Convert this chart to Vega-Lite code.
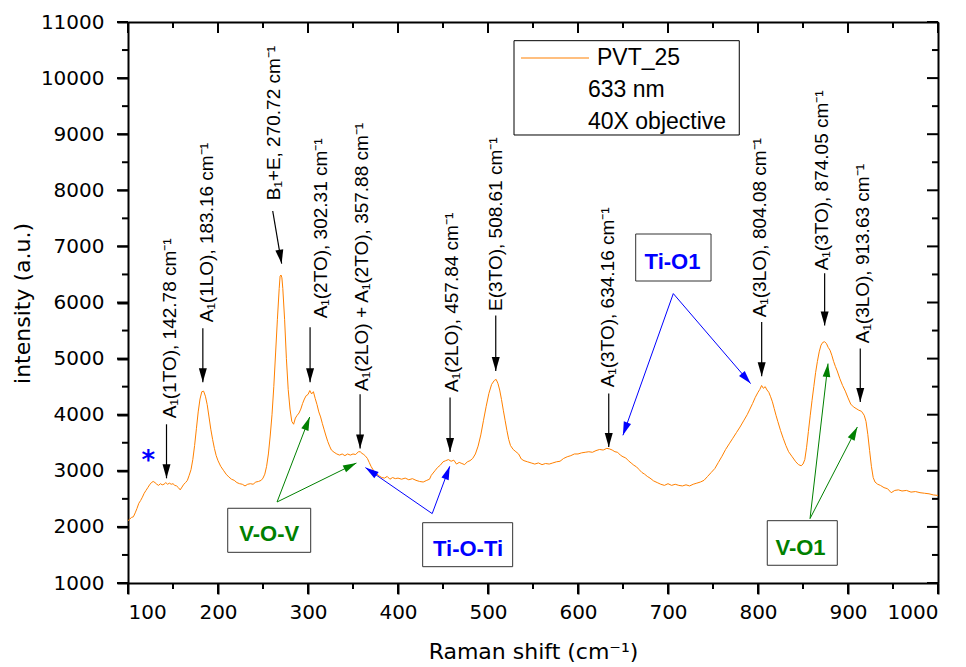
{
"$schema": "https://vega.github.io/schema/vega-lite/v6.json",
"width": 810, "height": 561,
"autosize": {"type": "none"},
"padding": {"left": 128, "top": 22, "right": 28, "bottom": 84},
"background": "white",
"config": {
  "view": {"stroke": null},
  "axis": {"grid": false, "domainColor": "black", "domainWidth": 2, "labelColor": "black", "labelFont": "DejaVu Sans", "labelFontSize": 20, "titleColor": "black", "titleFont": "DejaVu Sans", "titleFontSize": 22, "titleFontWeight": "normal"}
},
"datasets": {
  "spectrum": [
{"x":100,"y":2110},{"x":102,"y":2140},{"x":104,"y":2170},{"x":106,"y":2180},{"x":108,"y":2250},{"x":110,"y":2330},{"x":112,"y":2420},{"x":114,"y":2470},{"x":116,"y":2530},{"x":118,"y":2600},{"x":120,"y":2650},{"x":122,"y":2700},{"x":124,"y":2750},{"x":126,"y":2790},{"x":128,"y":2810},{"x":130,"y":2790},{"x":132,"y":2760},{"x":134,"y":2740},{"x":136,"y":2770},{"x":138,"y":2750},{"x":140,"y":2760},{"x":142,"y":2790},{"x":144,"y":2760},{"x":146,"y":2780},{"x":148,"y":2760},{"x":150,"y":2770},{"x":152,"y":2740},{"x":154,"y":2730},{"x":156,"y":2700},{"x":158,"y":2660},{"x":160,"y":2710},{"x":162,"y":2760},{"x":164,"y":2790},{"x":166,"y":2830},{"x":168,"y":2920},{"x":170,"y":3020},{"x":172,"y":3200},{"x":174,"y":3450},{"x":176,"y":3750},{"x":178,"y":4050},{"x":180,"y":4280},{"x":182,"y":4410},{"x":184,"y":4420},{"x":186,"y":4330},{"x":188,"y":4180},{"x":190,"y":3960},{"x":192,"y":3740},{"x":194,"y":3560},{"x":196,"y":3400},{"x":198,"y":3270},{"x":200,"y":3180},{"x":203,"y":3080},{"x":206,"y":3010},{"x":209,"y":2940},{"x":212,"y":2890},{"x":215,"y":2850},{"x":218,"y":2830},{"x":221,"y":2790},{"x":224,"y":2770},{"x":227,"y":2760},{"x":230,"y":2730},{"x":233,"y":2760},{"x":236,"y":2770},{"x":239,"y":2760},{"x":242,"y":2800},{"x":245,"y":2810},{"x":248,"y":2830},{"x":250,"y":2870},{"x":252,"y":2940},{"x":254,"y":3080},{"x":256,"y":3300},{"x":258,"y":3620},{"x":260,"y":4000},{"x":262,"y":4500},{"x":264,"y":5100},{"x":266,"y":5700},{"x":268,"y":6250},{"x":269,"y":6470},{"x":270,"y":6490},{"x":271,"y":6440},{"x":272,"y":6250},{"x":274,"y":5700},{"x":276,"y":5000},{"x":278,"y":4450},{"x":280,"y":4100},{"x":282,"y":3880},{"x":284,"y":3830},{"x":286,"y":3940},{"x":288,"y":3990},{"x":290,"y":4030},{"x":292,"y":4100},{"x":294,"y":4200},{"x":296,"y":4280},{"x":298,"y":4340},{"x":300,"y":4360},{"x":302,"y":4430},{"x":304,"y":4370},{"x":306,"y":4410},{"x":308,"y":4290},{"x":310,"y":4180},{"x":312,"y":4050},{"x":314,"y":3960},{"x":316,"y":3840},{"x":318,"y":3730},{"x":320,"y":3620},{"x":322,"y":3520},{"x":324,"y":3440},{"x":326,"y":3370},{"x":329,"y":3330},{"x":332,"y":3300},{"x":335,"y":3280},{"x":338,"y":3300},{"x":341,"y":3270},{"x":344,"y":3300},{"x":347,"y":3280},{"x":350,"y":3300},{"x":353,"y":3290},{"x":356,"y":3340},{"x":358,"y":3340},{"x":360,"y":3310},{"x":362,"y":3290},{"x":364,"y":3260},{"x":366,"y":3220},{"x":368,"y":3150},{"x":370,"y":3080},{"x":373,"y":3000},{"x":376,"y":2950},{"x":379,"y":2910},{"x":382,"y":2880},{"x":385,"y":2870},{"x":388,"y":2900},{"x":391,"y":2850},{"x":394,"y":2880},{"x":397,"y":2860},{"x":400,"y":2870},{"x":404,"y":2850},{"x":408,"y":2870},{"x":412,"y":2840},{"x":416,"y":2860},{"x":420,"y":2830},{"x":424,"y":2810},{"x":428,"y":2800},{"x":432,"y":2830},{"x":435,"y":2850},{"x":437,"y":2920},{"x":439,"y":2960},{"x":441,"y":3000},{"x":444,"y":3060},{"x":447,"y":3100},{"x":450,"y":3160},{"x":453,"y":3180},{"x":456,"y":3200},{"x":459,"y":3170},{"x":462,"y":3190},{"x":465,"y":3120},{"x":468,"y":3150},{"x":471,"y":3130},{"x":474,"y":3110},{"x":477,"y":3160},{"x":480,"y":3180},{"x":483,"y":3220},{"x":486,"y":3300},{"x":489,"y":3440},{"x":492,"y":3640},{"x":495,"y":3900},{"x":498,"y":4150},{"x":501,"y":4380},{"x":504,"y":4540},{"x":507,"y":4610},{"x":509,"y":4630},{"x":511,"y":4560},{"x":513,"y":4440},{"x":515,"y":4270},{"x":517,"y":4080},{"x":519,"y":3900},{"x":521,"y":3720},{"x":523,"y":3560},{"x":525,"y":3450},{"x":528,"y":3380},{"x":531,"y":3340},{"x":534,"y":3300},{"x":537,"y":3210},{"x":540,"y":3180},{"x":544,"y":3160},{"x":548,"y":3140},{"x":552,"y":3120},{"x":556,"y":3140},{"x":560,"y":3110},{"x":564,"y":3130},{"x":568,"y":3120},{"x":572,"y":3140},{"x":576,"y":3160},{"x":580,"y":3170},{"x":584,"y":3220},{"x":588,"y":3250},{"x":592,"y":3270},{"x":596,"y":3300},{"x":600,"y":3300},{"x":604,"y":3320},{"x":608,"y":3330},{"x":612,"y":3340},{"x":616,"y":3330},{"x":620,"y":3360},{"x":624,"y":3380},{"x":628,"y":3370},{"x":632,"y":3400},{"x":635,"y":3390},{"x":638,"y":3370},{"x":641,"y":3340},{"x":644,"y":3330},{"x":647,"y":3280},{"x":650,"y":3250},{"x":653,"y":3230},{"x":656,"y":3180},{"x":659,"y":3140},{"x":662,"y":3100},{"x":665,"y":3070},{"x":668,"y":3020},{"x":671,"y":2970},{"x":674,"y":2940},{"x":677,"y":2900},{"x":680,"y":2870},{"x":684,"y":2820},{"x":688,"y":2790},{"x":692,"y":2760},{"x":696,"y":2740},{"x":700,"y":2770},{"x":704,"y":2740},{"x":708,"y":2760},{"x":712,"y":2740},{"x":716,"y":2730},{"x":720,"y":2750},{"x":724,"y":2730},{"x":728,"y":2760},{"x":732,"y":2780},{"x":736,"y":2800},{"x":740,"y":2830},{"x":744,"y":2900},{"x":748,"y":2970},{"x":752,"y":3040},{"x":756,"y":3150},{"x":760,"y":3260},{"x":764,"y":3380},{"x":768,"y":3480},{"x":772,"y":3580},{"x":776,"y":3680},{"x":780,"y":3780},{"x":784,"y":3890},{"x":788,"y":4000},{"x":791,"y":4100},{"x":794,"y":4200},{"x":797,"y":4310},{"x":800,"y":4400},{"x":802,"y":4450},{"x":804,"y":4520},{"x":806,"y":4470},{"x":808,"y":4500},{"x":810,"y":4440},{"x":812,"y":4400},{"x":814,"y":4320},{"x":816,"y":4230},{"x":818,"y":4110},{"x":820,"y":3990},{"x":822,"y":3880},{"x":825,"y":3720},{"x":828,"y":3580},{"x":831,"y":3450},{"x":834,"y":3340},{"x":838,"y":3250},{"x":842,"y":3160},{"x":845,"y":3110},{"x":848,"y":3090},{"x":850,"y":3120},{"x":852,"y":3200},{"x":854,"y":3420},{"x":856,"y":3700},{"x":858,"y":3980},{"x":860,"y":4250},{"x":862,"y":4500},{"x":864,"y":4750},{"x":866,"y":4950},{"x":868,"y":5120},{"x":870,"y":5240},{"x":872,"y":5290},{"x":874,"y":5300},{"x":876,"y":5270},{"x":878,"y":5200},{"x":880,"y":5150},{"x":882,"y":5060},{"x":884,"y":4950},{"x":886,"y":4860},{"x":888,"y":4780},{"x":891,"y":4640},{"x":894,"y":4520},{"x":897,"y":4420},{"x":900,"y":4300},{"x":903,"y":4190},{"x":906,"y":4140},{"x":909,"y":4110},{"x":912,"y":4080},{"x":915,"y":4060},{"x":918,"y":3990},{"x":920,"y":3880},{"x":922,"y":3650},{"x":924,"y":3360},{"x":926,"y":3080},{"x":928,"y":2880},{"x":930,"y":2800},{"x":933,"y":2760},{"x":936,"y":2740},{"x":940,"y":2700},{"x":944,"y":2680},{"x":948,"y":2610},{"x":952,"y":2650},{"x":956,"y":2660},{"x":960,"y":2640},{"x":965,"y":2650},{"x":970,"y":2620},{"x":975,"y":2630},{"x":980,"y":2610},{"x":985,"y":2600},{"x":990,"y":2590},{"x":995,"y":2570},{"x":1000,"y":2560}
  ],
  "xticks": [
    {"v":100,"k":"major"},{"v":150,"k":"minor"},{"v":200,"k":"major"},{"v":250,"k":"minor"},{"v":300,"k":"major"},{"v":350,"k":"minor"},{"v":400,"k":"major"},{"v":450,"k":"minor"},{"v":500,"k":"major"},{"v":550,"k":"minor"},{"v":600,"k":"major"},{"v":650,"k":"minor"},{"v":700,"k":"major"},{"v":750,"k":"minor"},{"v":800,"k":"major"},{"v":850,"k":"minor"},{"v":900,"k":"major"},{"v":950,"k":"minor"},{"v":1000,"k":"major"}
  ],
  "yticks": [
    {"v":1000,"k":"major"},{"v":1500,"k":"minor"},{"v":2000,"k":"major"},{"v":2500,"k":"minor"},{"v":3000,"k":"major"},{"v":3500,"k":"minor"},{"v":4000,"k":"major"},{"v":4500,"k":"minor"},{"v":5000,"k":"major"},{"v":5500,"k":"minor"},{"v":6000,"k":"major"},{"v":6500,"k":"minor"},{"v":7000,"k":"major"},{"v":7500,"k":"minor"},{"v":8000,"k":"major"},{"v":8500,"k":"minor"},{"v":9000,"k":"major"},{"v":9500,"k":"minor"},{"v":10000,"k":"major"},{"v":10500,"k":"minor"},{"v":11000,"k":"major"}
  ],
  "modes": [
    {"label": "A₁(1TO), 142.78 cm⁻¹", "xs": 142.78, "ys": 3829, "xt": 142.78, "yt": 2866, "lx": 146.7, "ly": 3936},
    {"label": "A₁(1LO), 183.16 cm⁻¹", "xs": 183.16, "ys": 5540, "xt": 183.16, "yt": 4578, "lx": 188.3, "ly": 5648},
    {"label": "B₁+E, 270.72 cm⁻¹", "xs": 260.8, "ys": 7631, "xt": 270.72, "yt": 6693, "lx": 262, "ly": 7822},
    {"label": "A₁(2TO), 302.31 cm⁻¹", "xs": 302.31, "ys": 5558, "xt": 302.31, "yt": 4578, "lx": 314.4, "ly": 5718},
    {"label": "A₁(2LO) + A₁(2TO), 357.88 cm⁻¹", "xs": 357.88, "ys": 4363, "xt": 357.88, "yt": 3396, "lx": 359.7, "ly": 4422},
    {"label": "A₁(2LO), 457.84 cm⁻¹", "xs": 457.84, "ys": 4305, "xt": 457.84, "yt": 3335, "lx": 459.7, "ly": 4405},
    {"label": "E(3TO), 508.61 cm⁻¹", "xs": 508.61, "ys": 5770, "xt": 508.61, "yt": 4779, "lx": 508.9, "ly": 5850},
    {"label": "A₁(3TO), 634.16 cm⁻¹", "xs": 634.16, "ys": 4376, "xt": 634.16, "yt": 3424, "lx": 633.7, "ly": 4488},
    {"label": "A₁(3LO), 804.08 cm⁻¹", "xs": 804.08, "ys": 5652, "xt": 804.08, "yt": 4684, "lx": 802.2, "ly": 5736},
    {"label": "A₁(3TO), 874.05 cm⁻¹", "xs": 874.05, "ys": 6521, "xt": 874.05, "yt": 5592, "lx": 870.8, "ly": 6574},
    {"label": "A₁(3LO), 913.63 cm⁻¹", "xs": 913.63, "ys": 5178, "xt": 913.63, "yt": 4226, "lx": 917, "ly": 5273}
  ],
  "bonds": [
    {"group": "V-O", "xs": 265.6, "ys": 2444, "xt": 301.9, "yt": 3959},
    {"group": "V-O", "xs": 265.6, "ys": 2444, "xt": 353.8, "yt": 3139},
    {"group": "Ti-O", "xs": 438, "ys": 2237, "xt": 363.8, "yt": 3057},
    {"group": "Ti-O", "xs": 438, "ys": 2237, "xt": 457.5, "yt": 3080},
    {"group": "Ti-O", "xs": 705.9, "ys": 6159, "xt": 649.9, "yt": 3633},
    {"group": "Ti-O", "xs": 705.9, "ys": 6159, "xt": 791.8, "yt": 4554},
    {"group": "V-O", "xs": 857.8, "ys": 2148, "xt": 877.8, "yt": 4911},
    {"group": "V-O", "xs": 857.8, "ys": 2148, "xt": 910.4, "yt": 3781}
  ],
  "boxes": [
    {"name": "V-O-V", "group": "V-O", "xa": 210.8, "xb": 303, "ya": 2332, "yb": 1547, "cx": 256.9, "cy": 1865},
    {"name": "Ti-O-Ti", "group": "Ti-O", "xa": 427.4, "xb": 527.4, "ya": 2075, "yb": 1291, "cx": 477.8, "cy": 1606},
    {"name": "Ti-O1", "group": "Ti-O", "xa": 664.1, "xb": 747.8, "ya": 7221, "yb": 6383, "cx": 705, "cy": 6726},
    {"name": "V-O1", "group": "V-O", "xa": 810.3, "xb": 888.1, "ya": 2111, "yb": 1316, "cx": 847.2, "cy": 1620}
  ],
  "legendbox": [{"xa": 528.9, "xb": 779.2, "ya": 10667, "yb": 8986}],
  "legendtext": [{"t": "633 nm", "x": 611.1, "y": 9788}, {"t": "40X objective", "x": 611.1, "y": 9226}],
  "marker": [{"t": "*", "x": 122.6, "y": 3169}]
},
"resolve": {"axis": {"x": "independent", "y": "independent"}, "scale": {"color": "independent"}},
"layer": [
  {
    "data": {"name": "legendbox"},
    "mark": {"type": "rect", "fill": "white", "stroke": "black", "strokeWidth": 1},
    "encoding": {
      "x": {"field": "xa", "type": "quantitative", "scale": {"domain": [100, 1000], "nice": false},
        "axis": {"orient": "top", "values": [100, 1000], "labels": false, "ticks": false, "title": null, "domain": true}},
      "x2": {"field": "xb"},
      "y": {"field": "ya", "type": "quantitative", "scale": {"domain": [1000, 11000], "nice": false},
        "axis": {"orient": "right", "values": [1000, 11000], "labels": false, "ticks": false, "title": null, "domain": true}},
      "y2": {"field": "yb"}
    }
  },
  {
    "data": {"name": "spectrum"},
    "mark": {"type": "line", "strokeWidth": 1},
    "encoding": {
      "x": {"field": "x", "type": "quantitative", "scale": {"domain": [100, 1000], "nice": false},
        "axis": {"orient": "bottom", "values": [100,200,300,400,500,600,700,800,900,1000], "format": "d", "labelPadding": 8, "tickColor": "black", "tickWidth": 2, "tickSize": 11,
          "title": "Raman shift (cm⁻¹)", "titleX": 405, "titleY": 68, "titleBaseline": "middle"}},
      "y": {"field": "y", "type": "quantitative", "scale": {"domain": [1000, 11000], "nice": false},
        "axis": {"orient": "left", "values": [1000,2000,3000,4000,5000,6000,7000,8000,9000,10000,11000], "format": "d", "labelPadding": 13, "tickColor": "black", "tickWidth": 2, "tickSize": 11,
          "title": "intensity (a.u.)", "titleX": -106, "titleY": 281, "titleBaseline": "middle", "titleAngle": 270}},
      "color": {"datum": "PVT_25", "type": "nominal", "scale": {"range": ["#FF8000"]},
        "legend": {"orient": "none", "legendX": 392, "legendY": 1, "title": null, "symbolType": "stroke", "symbolSize": 4624, "symbolStrokeWidth": 1.2,
          "labelFont": "Liberation Sans", "labelFontSize": 23, "labelColor": "black", "labelOffset": 7, "padding": 0}}
    }
  },
  {
    "data": {"name": "xticks"},
    "transform": [{"filter": "datum.k === 'major'"}],
    "mark": {"type": "tick", "orient": "vertical", "size": 11, "thickness": 2, "color": "black", "opacity": 1, "yOffset": 5.5},
    "encoding": {
      "x": {"field": "v", "type": "quantitative", "scale": {"domain": [100, 1000], "nice": false}, "axis": null},
      "y": {"datum": 1000, "type": "quantitative", "scale": {"domain": [1000, 11000], "nice": false}, "axis": null}
    }
  },
  {
    "data": {"name": "xticks"},
    "transform": [{"filter": "datum.k === 'minor'"}],
    "mark": {"type": "tick", "orient": "vertical", "size": 6, "thickness": 2, "color": "black", "opacity": 1, "yOffset": 3},
    "encoding": {
      "x": {"field": "v", "type": "quantitative", "scale": {"domain": [100, 1000], "nice": false}, "axis": null},
      "y": {"datum": 1000, "type": "quantitative", "scale": {"domain": [1000, 11000], "nice": false}, "axis": null}
    }
  },
  {
    "data": {"name": "xticks"},
    "transform": [{"filter": "datum.k === 'major'"}],
    "mark": {"type": "tick", "orient": "vertical", "size": 11, "thickness": 2, "color": "black", "opacity": 1, "yOffset": 5.5},
    "encoding": {
      "x": {"field": "v", "type": "quantitative", "scale": {"domain": [100, 1000], "nice": false}, "axis": null},
      "y": {"datum": 11000, "type": "quantitative", "scale": {"domain": [1000, 11000], "nice": false}, "axis": null}
    }
  },
  {
    "data": {"name": "xticks"},
    "transform": [{"filter": "datum.k === 'minor'"}],
    "mark": {"type": "tick", "orient": "vertical", "size": 6, "thickness": 2, "color": "black", "opacity": 1, "yOffset": 3},
    "encoding": {
      "x": {"field": "v", "type": "quantitative", "scale": {"domain": [100, 1000], "nice": false}, "axis": null},
      "y": {"datum": 11000, "type": "quantitative", "scale": {"domain": [1000, 11000], "nice": false}, "axis": null}
    }
  },
  {
    "data": {"name": "yticks"},
    "transform": [{"filter": "datum.k === 'major'"}],
    "mark": {"type": "tick", "orient": "horizontal", "size": 11, "thickness": 2, "color": "black", "opacity": 1, "xOffset": -5.5},
    "encoding": {
      "y": {"field": "v", "type": "quantitative", "scale": {"domain": [1000, 11000], "nice": false}, "axis": null},
      "x": {"datum": 100, "type": "quantitative", "scale": {"domain": [100, 1000], "nice": false}, "axis": null}
    }
  },
  {
    "data": {"name": "yticks"},
    "transform": [{"filter": "datum.k === 'minor'"}],
    "mark": {"type": "tick", "orient": "horizontal", "size": 6, "thickness": 2, "color": "black", "opacity": 1, "xOffset": -3},
    "encoding": {
      "y": {"field": "v", "type": "quantitative", "scale": {"domain": [1000, 11000], "nice": false}, "axis": null},
      "x": {"datum": 100, "type": "quantitative", "scale": {"domain": [100, 1000], "nice": false}, "axis": null}
    }
  },
  {
    "data": {"name": "yticks"},
    "transform": [{"filter": "datum.k === 'major'"}],
    "mark": {"type": "tick", "orient": "horizontal", "size": 11, "thickness": 2, "color": "black", "opacity": 1, "xOffset": -5.5},
    "encoding": {
      "y": {"field": "v", "type": "quantitative", "scale": {"domain": [1000, 11000], "nice": false}, "axis": null},
      "x": {"datum": 1000, "type": "quantitative", "scale": {"domain": [100, 1000], "nice": false}, "axis": null}
    }
  },
  {
    "data": {"name": "yticks"},
    "transform": [{"filter": "datum.k === 'minor'"}],
    "mark": {"type": "tick", "orient": "horizontal", "size": 6, "thickness": 2, "color": "black", "opacity": 1, "xOffset": -3},
    "encoding": {
      "y": {"field": "v", "type": "quantitative", "scale": {"domain": [1000, 11000], "nice": false}, "axis": null},
      "x": {"datum": 1000, "type": "quantitative", "scale": {"domain": [100, 1000], "nice": false}, "axis": null}
    }
  },
  {
    "data": {"name": "legendtext"},
    "mark": {"type": "text", "align": "left", "baseline": "middle", "font": "Liberation Sans", "fontSize": 23, "color": "black"},
    "encoding": {
      "x": {"field": "x", "type": "quantitative", "scale": {"domain": [100, 1000], "nice": false}, "axis": null},
      "y": {"field": "y", "type": "quantitative", "scale": {"domain": [1000, 11000], "nice": false}, "axis": null},
      "text": {"field": "t"}
    }
  },
  {
    "data": {"name": "modes"},
    "mark": {"type": "rule", "color": "black", "strokeWidth": 1.2},
    "encoding": {
      "x": {"field": "xs", "type": "quantitative", "scale": {"domain": [100, 1000], "nice": false}, "axis": null},
      "y": {"field": "ys", "type": "quantitative", "scale": {"domain": [1000, 11000], "nice": false}, "axis": null},
      "x2": {"field": "xt"},
      "y2": {"field": "yt"}
    }
  },
  {
    "data": {"name": "modes"},
    "transform": [{"calculate": "atan2(-(datum.xt - datum.xs) * 0.9, (datum.ys - datum.yt) * 0.0561) * 180 / PI", "as": "ang"}],
    "mark": {"type": "point", "shape": "M0,0L-0.57,-2L0.57,-2Z", "size": 196, "filled": true, "opacity": 1, "color": "black", "strokeWidth": 0},
    "encoding": {
      "x": {"field": "xt", "type": "quantitative", "scale": {"domain": [100, 1000], "nice": false}, "axis": null},
      "y": {"field": "yt", "type": "quantitative", "scale": {"domain": [1000, 11000], "nice": false}, "axis": null},
      "angle": {"field": "ang", "type": "quantitative", "scale": null}
    }
  },
  {
    "data": {"name": "modes"},
    "mark": {"type": "text", "angle": 270, "align": "left", "baseline": "middle", "font": "Liberation Sans", "fontSize": 19, "color": "black"},
    "encoding": {
      "x": {"field": "lx", "type": "quantitative", "scale": {"domain": [100, 1000], "nice": false}, "axis": null},
      "y": {"field": "ly", "type": "quantitative", "scale": {"domain": [1000, 11000], "nice": false}, "axis": null},
      "text": {"field": "label"}
    }
  },
  {
    "data": {"name": "bonds"},
    "mark": {"type": "rule", "strokeWidth": 1},
    "encoding": {
      "x": {"field": "xs", "type": "quantitative", "scale": {"domain": [100, 1000], "nice": false}, "axis": null},
      "y": {"field": "ys", "type": "quantitative", "scale": {"domain": [1000, 11000], "nice": false}, "axis": null},
      "x2": {"field": "xt"},
      "y2": {"field": "yt"},
      "color": {"field": "group", "type": "nominal", "scale": {"domain": ["V-O", "Ti-O"], "range": ["#008000", "#0000FF"]}, "legend": null}
    }
  },
  {
    "data": {"name": "bonds"},
    "transform": [{"calculate": "atan2(-(datum.xt - datum.xs) * 0.9, (datum.ys - datum.yt) * 0.0561) * 180 / PI", "as": "ang"}],
    "mark": {"type": "point", "shape": "M0,0L-0.57,-2L0.57,-2Z", "size": 180, "filled": true, "opacity": 1, "strokeWidth": 0},
    "encoding": {
      "x": {"field": "xt", "type": "quantitative", "scale": {"domain": [100, 1000], "nice": false}, "axis": null},
      "y": {"field": "yt", "type": "quantitative", "scale": {"domain": [1000, 11000], "nice": false}, "axis": null},
      "angle": {"field": "ang", "type": "quantitative", "scale": null},
      "color": {"field": "group", "type": "nominal", "scale": {"domain": ["V-O", "Ti-O"], "range": ["#008000", "#0000FF"]}, "legend": null}
    }
  },
  {
    "data": {"name": "boxes"},
    "mark": {"type": "rect", "fill": "white", "stroke": "#333333", "strokeWidth": 1},
    "encoding": {
      "x": {"field": "xa", "type": "quantitative", "scale": {"domain": [100, 1000], "nice": false}, "axis": null},
      "x2": {"field": "xb"},
      "y": {"field": "ya", "type": "quantitative", "scale": {"domain": [1000, 11000], "nice": false}, "axis": null},
      "y2": {"field": "yb"}
    }
  },
  {
    "data": {"name": "boxes"},
    "mark": {"type": "text", "align": "center", "baseline": "middle", "font": "Liberation Sans", "fontSize": 22, "fontWeight": "bold"},
    "encoding": {
      "x": {"field": "cx", "type": "quantitative", "scale": {"domain": [100, 1000], "nice": false}, "axis": null},
      "y": {"field": "cy", "type": "quantitative", "scale": {"domain": [1000, 11000], "nice": false}, "axis": null},
      "text": {"field": "name"},
      "color": {"field": "group", "type": "nominal", "scale": {"domain": ["V-O", "Ti-O"], "range": ["#008000", "#0000FF"]}, "legend": null}
    }
  },
  {
    "data": {"name": "marker"},
    "mark": {"type": "text", "align": "center", "baseline": "middle", "font": "DejaVu Sans", "fontSize": 26, "fontWeight": "bold", "color": "#0000FF"},
    "encoding": {
      "x": {"field": "x", "type": "quantitative", "scale": {"domain": [100, 1000], "nice": false}, "axis": null},
      "y": {"field": "y", "type": "quantitative", "scale": {"domain": [1000, 11000], "nice": false}, "axis": null},
      "text": {"field": "t"}
    }
  }
]
}
